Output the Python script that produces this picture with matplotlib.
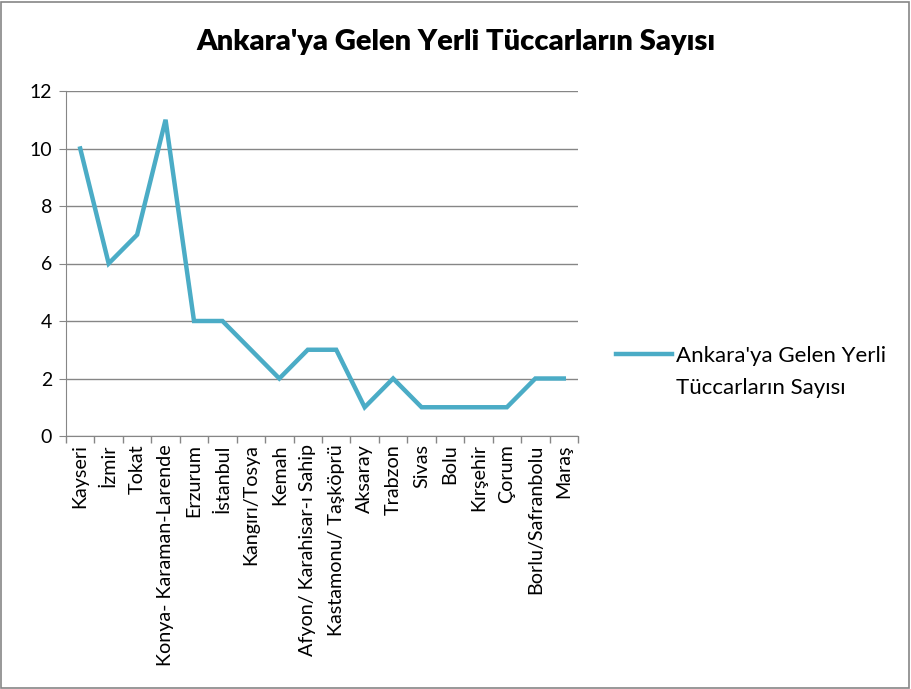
import matplotlib
matplotlib.use("Agg")
import matplotlib.pyplot as plt
from matplotlib.patches import Rectangle
from matplotlib.lines import Line2D
import numpy as np

categories = ["Kayseri", "İzmir", "Tokat", "Konya- Karaman-Larende", "Erzurum",
              "İstanbul", "Kangırı/Tosya", "Kemah", "Afyon/ Karahisar-ı Sahip",
              "Kastamonu/ Taşköprü", "Aksaray", "Trabzon", "Sivas", "Bolu",
              "Kırşehir", "Çorum", "Borlu/Safranbolu", "Maraş"]
values = [10, 6, 7, 11, 4, 4, 3, 2, 3, 3, 1, 2, 1, 1, 1, 1, 2, 2]
series_name_lines = ["Ankara'ya Gelen Yerli", "Tüccarların Sayısı"]
title = "Ankara'ya Gelen Yerli Tüccarların Sayısı"

plt.rcParams['font.family'] = ['Lato', 'DejaVu Sans']

fig = plt.figure(figsize=(9.11, 6.89), dpi=100)
ax = fig.add_axes([66/911, 1-436/689, (578-66)/911, (436-91)/689])

x = np.arange(len(categories))
line, = ax.plot(x, values, color="#4BACC6", lw=3.2, solid_joinstyle="miter")

ax.set_xlim(-0.5, len(categories)-0.5)
ax.set_ylim(0, 12)
ax.set_yticks(range(0, 13, 2))
ax.yaxis.grid(True, color="#868686", lw=1)
ax.set_axisbelow(True)
ax.set_xticks(x)
ax.set_xticklabels(categories, rotation=90, fontsize=14.2)
ax.set_xticks(np.arange(-0.5, len(categories)), minor=True)
ax.tick_params(axis="x", which="major", length=0, pad=6)
ax.tick_params(axis="x", which="minor", length=5, color="#868686", width=1)
ax.tick_params(axis="y", length=5, color="#868686", labelsize=14, pad=5)
for s in ["top", "right"]:
    ax.spines[s].set_visible(False)
for s in ["left", "bottom"]:
    ax.spines[s].set_color("#868686")

fig.text(0.5, 1-42/689, title, ha="center", va="center", fontsize=21,
         fontweight="heavy")

blank = Line2D([], [], color="none")
fig.legend([line, blank], series_name_lines, loc="upper left",
           bbox_to_anchor=(616/911, 1-346/689),
           frameon=False, fontsize=16, handlelength=2.5, handletextpad=0.2,
           borderpad=0, borderaxespad=0, labelspacing=0.55)

fig.patches.append(Rectangle((1/911, 1/689), 908/911, 686/689,
                             transform=fig.transFigure, fill=False,
                             edgecolor="#868686", lw=1.2))

fig.savefig("out.png", dpi=100)
